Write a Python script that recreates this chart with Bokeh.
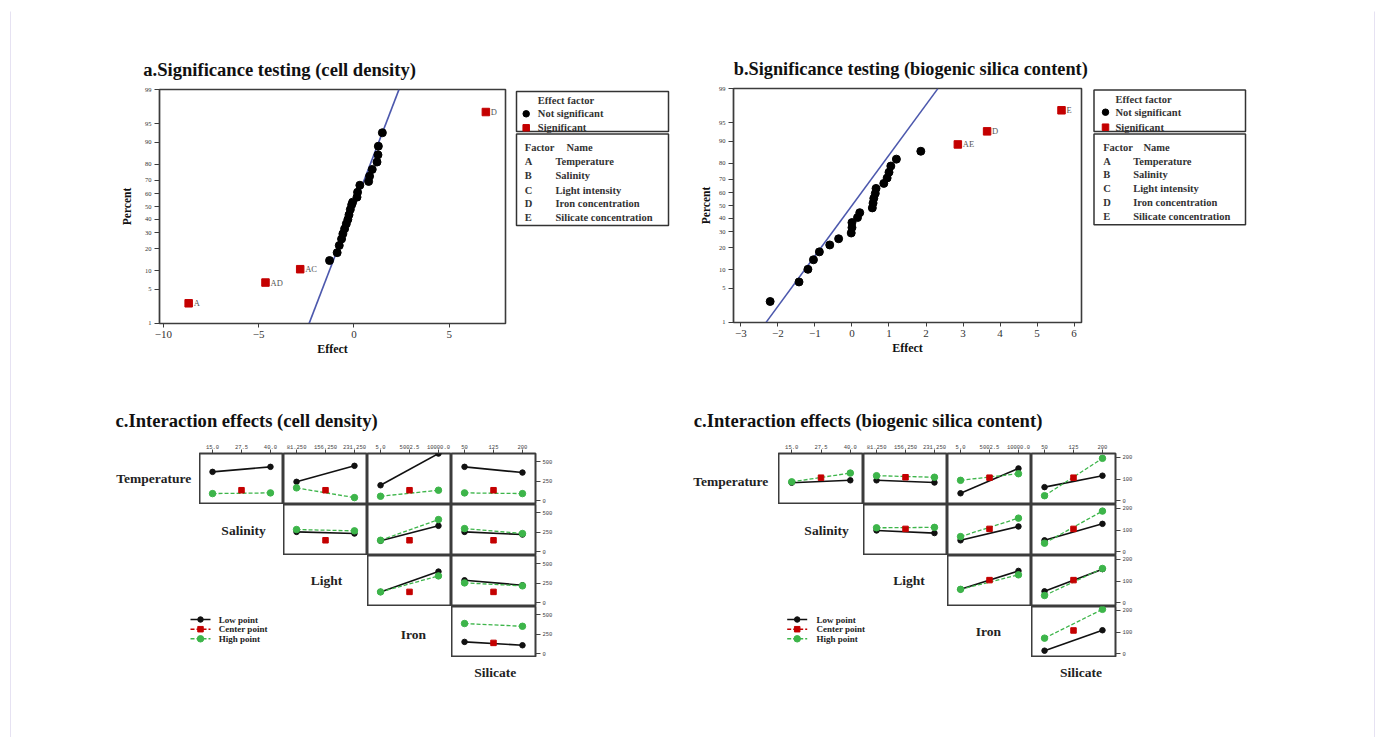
from statistics import NormalDist
from bokeh.plotting import figure
from bokeh.models import Range1d, FixedTicker, CustomJSTickFormatter, LinearAxis, Spacer
from bokeh.layouts import row, column
from bokeh.embed import file_html
from bokeh.resources import INLINE
from bokeh.core.properties import value

# ---------------- data ----------------
percent_ticks = [1, 5, 10, 20, 30, 40, 50, 60, 70, 80, 90, 95, 99]
a_effect_ticks = [-10, -5, 0, 5]
b_effect_ticks = [-3, -2, -1, 0, 1, 2, 3, 4, 5, 6]

a_sig_names = ["A", "AD", "AC", "D"]
a_sig_effect = [-8.67, -4.64, -2.82, 6.92]
a_sig_percent = [2.7, 6.5, 10.6, 97.0]
a_ns_effect = [-1.28, -0.88, -0.77, -0.65, -0.58, -0.49, -0.40, -0.32, -0.26, -0.19, -0.12,
               -0.07, 0.16, 0.19, 0.31, 0.77, 0.82, 0.96, 1.21, 1.26, 1.28, 1.49]
a_ns_percent = [14.1, 17.9, 21.9, 25.9, 29.3, 32.8, 36.5, 39.8, 43.4, 47.6, 51.3,
                53.4, 57.4, 61.2, 66.4, 69.1, 72.7, 77.0, 81.2, 84.8, 88.5, 92.9]
a_fit_effect = [-2.35, 2.36]
a_fit_percent = [1, 99]

b_sig_names = ["AE", "D", "E"]
b_sig_effect = [2.86, 3.65, 5.66]
b_sig_percent = [88.8, 93.0, 97.1]
b_ns_effect = [-2.21, -1.43, -1.19, -1.04, -0.88, -0.60, -0.36, -0.02, 0.00, 0.00, 0.15, 0.21,
               0.55, 0.57, 0.59, 0.63, 0.65, 0.86, 0.95, 1.00, 1.05, 1.20, 1.86]
b_ns_percent = [2.8, 6.4, 10.2, 14.0, 17.8, 21.6, 25.4, 29.2, 33.0, 36.7, 40.5, 44.3,
                48.1, 51.9, 55.7, 59.5, 63.3, 67.0, 70.8, 74.6, 78.4, 82.2, 86.0]
b_fit_effect = [-2.32, 2.32]
b_fit_percent = [1, 99]

effect_legend = ["Effect factor", "Not significant", "Significant"]
factor_header = ["Factor", "Name"]
factor_codes = ["A", "B", "C", "D", "E"]
factor_long_names = ["Temperature", "Salinity", "Light intensity", "Iron concentration",
                     "Silicate concentration"]

factor_names = ["Temperature", "Salinity", "Light", "Iron", "Silicate"]
salinity_levels = ["15.0", "27.5", "40.0"]
light_levels = ["81.250", "156.250", "231.250"]
iron_levels = ["5.0", "5002.5", "10000.0"]
silicate_levels = ["50", "125", "200"]
coded_levels = [-1, 0, 1]

pair_row = ["Temperature", "Temperature", "Temperature", "Temperature",
            "Salinity", "Salinity", "Salinity", "Light", "Light", "Iron"]
pair_col = ["Salinity", "Light", "Iron", "Silicate",
            "Light", "Iron", "Silicate", "Iron", "Silicate", "Silicate"]

# cell density (low / high level of the row factor, at low / high of the column factor)
cd_low_at_low = [371, 244, 200, 435, 256, 142, 256, 141, 289, 154]
cd_low_at_high = [435, 448, 604, 362, 235, 333, 222, 400, 226, 111]
cd_high_at_low = [94, 167, 60, 103, 286, 149, 298, 141, 256, 388]
cd_high_at_high = [103, 43, 137, 94, 269, 413, 235, 345, 218, 353]
cd_center = [137, 137, 137, 137, 149, 149, 149, 141, 141, 141]
cd_ticks = [0, 250, 500]

# biogenic silica content
bs_low_at_low = [83, 94, 35, 63, 98, 53, 53, 62, 53, 15]
bs_low_at_high = [94, 84, 148, 115, 86, 116, 128, 146, 154, 108]
bs_high_at_low = [87, 115, 94, 24, 110, 70, 40, 62, 34, 72]
bs_high_at_high = [127, 108, 124, 194, 112, 154, 186, 128, 157, 203]
bs_center = [106, 108, 106, 106, 105, 105, 105, 104, 104, 107]
bs_ticks = [0, 100, 200]

interaction_legend = ["Low point", "Center point", "High point"]

titles = ["a.Significance testing (cell density)",
          "b.Significance testing (biogenic silica content)",
          "c.Interaction effects (cell density)",
          "c.Interaction effects (biogenic silica content)"]

# ---------------- styling / layout ----------------
SERIF = "Liberation Serif"
MONO = "Liberation Mono"
OX, OY = 11, 11
FRAME_C = "#3c3c3c"
BLACK = "#111111"
RED = "#c40000"
GREEN = "#3db54a"
ND = NormalDist()


def probit(ps):
    return [ND.inv_cdf(p / 100.0) for p in ps]


def page_fig(x0, x1, y0, y1):
    p = figure(width=int(x1 - x0), height=int(y1 - y0), x_range=Range1d(x0, x1),
               y_range=Range1d(y1, y0), x_axis_location=None, y_axis_location=None,
               min_border=0, title=None, frame_align=False,
               output_backend="svg", toolbar_location=None)
    p.outline_line_color = None
    p.grid.visible = False
    return p


def txt(p, x, y, s, size, bold=False, align="left", baseline="middle", color="#111111"):
    p.text(x=[x], y=[y], text=[s], text_font=value(SERIF), text_font_size=size,
           text_font_style="bold" if bold else "normal", text_align=align,
           text_baseline=baseline, text_color=color)


def hrow(items, height, x_start=OX):
    children = []
    cur = x_start
    for x, m in items:
        if x > cur:
            children.append(Spacer(width=int(round(x - cur)), height=height))
        children.append(m)
        cur = x + m.width
    return row(*children)


def significance(x0, x1, y0, y1, fx0, fx1, fy0, fy1, xr, xticks, ns_x, ns_p, sg_x, sg_p,
                 sg_lab, fit_x, fit_p, ylab_standoff):
    zlo, zhi = ND.inv_cdf(0.01), ND.inv_cdf(0.99)
    p = figure(width=x1 - x0, height=y1 - y0, x_range=Range1d(*xr),
               y_range=Range1d(zlo - 0.003, zhi + 0.003), title=None, frame_align=False,
               min_border_left=fx0 - x0, min_border_right=x1 - fx1,
               min_border_top=fy0 - y0, min_border_bottom=y1 - fy1,
               output_backend="svg", toolbar_location=None)
    p.grid.visible = False
    p.outline_line_color = FRAME_C
    p.outline_line_width = 1.6
    p.line(fit_x, probit(fit_p), line_color="#4c58ad", line_width=1.6)
    p.scatter(ns_x, probit(ns_p), marker="circle", size=8, fill_color="black", line_color="black")
    p.scatter(sg_x, probit(sg_p), marker="square", size=7.5, fill_color=RED, line_color=RED)
    p.text(x=sg_x, y=probit(sg_p), text=sg_lab, x_offset=5, text_align="left",
           text_baseline="middle", text_font=value(SERIF), text_font_size="8.5px",
           text_color="#555555")
    xa, ya = p.xaxis[0], p.yaxis[0]
    xa.ticker = FixedTicker(ticks=xticks)
    xa.formatter = CustomJSTickFormatter(
        code="return tick < 0 ? '\u2212' + Math.abs(tick) : String(tick);")
    zs = probit(percent_ticks)
    ya.ticker = FixedTicker(ticks=zs)
    ya.formatter = CustomJSTickFormatter(
        args=dict(zs=zs, labels=[str(t) for t in percent_ticks]),
        code="let b = 0; for (let i = 0; i < zs.length; i++) {"
             " if (Math.abs(zs[i] - tick) < Math.abs(zs[b] - tick)) b = i; }"
             " return labels[b];")
    for ax in (xa, ya):
        ax.axis_line_color = FRAME_C
        ax.axis_line_width = 1.2
        ax.major_tick_line_color = FRAME_C
        ax.major_tick_in = 0
        ax.minor_tick_line_color = None
        ax.major_label_text_font = SERIF
        ax.major_label_text_color = "#333333"
        ax.axis_label_text_font = SERIF
        ax.axis_label_text_font_style = "bold"
        ax.axis_label_text_color = "#111111"
    xa.major_tick_out = 4
    xa.major_label_standoff = 3
    xa.major_label_text_font_size = "11px"
    xa.axis_label = "Effect"
    xa.axis_label_text_font_size = "12px"
    xa.axis_label_standoff = 1
    ya.major_tick_out = 5
    ya.major_label_standoff = 3
    ya.major_label_text_font_size = "6.5px"
    ya.axis_label = "Percent"
    ya.axis_label_text_font_size = "11.5px"
    ya.axis_label_standoff = ylab_standoff
    return p


def sig_legend(x0, x1, y0, y1, g):
    p = page_fig(x0, x1, y0, y1)
    p.quad(left=[g["bl"], g["bl"]], right=[g["br"], g["br"]], top=[g["b1"][0], g["b2"][0]],
           bottom=[g["b1"][1], g["b2"][1]], fill_color=None, line_color="#333333", line_width=1.5)
    txt(p, g["tx"], g["ys1"][0], effect_legend[0], "10.5px", bold=True, color="#333333")
    p.scatter([g["mx"]], [g["ys1"][1]], marker="circle", size=6.5, color="black")
    txt(p, g["tx"], g["ys1"][1], effect_legend[1], "10.5px", bold=True, color="#333333")
    p.scatter([g["mx"]], [g["ys1"][2]], marker="square", size=6.5, color=RED)
    txt(p, g["tx"], g["ys1"][2], effect_legend[2], "10.5px", bold=True, color="#333333")
    txt(p, g["cx"], g["hy"], factor_header[0], "10.5px", bold=True, color="#333333")
    txt(p, g["hx"], g["hy"], factor_header[1], "10.5px", bold=True, color="#333333")
    for code, name, y in zip(factor_codes, factor_long_names, g["ys2"]):
        txt(p, g["cx"], y, code, "10.5px", bold=True, color="#333333")
        txt(p, g["nx"], y, name, "10.5px", bold=True, color="#333333")
    return p


LEVELS = {"Salinity": salinity_levels, "Light": light_levels, "Iron": iron_levels,
          "Silicate": silicate_levels}
YROWS = [453, 504, 555, 606, 657]
TOPB, RIGHTB = 20, 26


def interaction_grid(X, label_pos, lo_lo, lo_hi, hi_lo, hi_hi, ctr, yr, yticks, leg):
    idx = {(r, c): i for i, (r, c) in enumerate(zip(pair_row, pair_col))}
    ends = [coded_levels[0], coded_levels[-1]]
    bands = []
    for r in range(4):
        top = TOPB if r == 0 else 0
        by0 = YROWS[r] - top
        bh = YROWS[r + 1] - by0
        items = []
        if r == 3:
            lg = page_fig(leg["x0"], X[3], YROWS[3], YROWS[4])
            styles = [(BLACK, "solid", "circle", 5.5), (RED, "dashed", "square", 5.5),
                      (GREEN, "dashed", "circle", 6.5)]
            for (col, dash, mk, sz), lab, y in zip(styles, interaction_legend, leg["ys"]):
                lg.line([leg["gx"], leg["gx"] + 20], [y, y], line_color=col, line_width=1.5,
                        line_dash=dash if dash == "solid" else "4 2")
                lg.scatter([leg["gx"] + 10], [y], marker=mk, size=sz, color=col)
                txt(lg, leg["tx"], y, lab, "9px", bold=True, color="#222222")
            items.append((leg["x0"], lg))
        lab = page_fig(X[r], X[r + 1], by0, YROWS[r + 1])
        txt(lab, label_pos[r][0], label_pos[r][1], factor_names[r], "13.5px", bold=True,
            align="center", color="#222222")
        items.append((X[r], lab))
        for k in range(r + 1, 5):
            i = idx[(factor_names[r], factor_names[k])]
            w = X[k + 1] - X[k]
            right = RIGHTB if k == 4 else 0
            c = figure(width=w + right, height=bh, x_range=Range1d(-1.45, 1.45),
                       y_range=Range1d(*yr), x_axis_location=None, y_axis_location=None,
                       min_border=0, min_border_top=top, min_border_right=right, title=None,
                       frame_align=False, output_backend="svg", toolbar_location=None)
            c.grid.visible = False
            c.outline_line_color = FRAME_C
            c.outline_line_width = 2
            c.line(ends, [lo_lo[i], lo_hi[i]], line_color=BLACK, line_width=1.6)
            c.scatter(ends, [lo_lo[i], lo_hi[i]], marker="circle", size=5.5, color=BLACK)
            c.line(ends, [hi_lo[i], hi_hi[i]], line_color=GREEN, line_width=1.3, line_dash="4 2")
            c.scatter(ends, [hi_lo[i], hi_hi[i]], marker="circle", size=6.5, color=GREEN)
            c.scatter([coded_levels[1]], [ctr[i]], marker="square", size=5.5, color=RED)
            if r == 0:
                ax = LinearAxis(ticker=FixedTicker(ticks=coded_levels),
                                formatter=CustomJSTickFormatter(
                                    args=dict(labels=LEVELS[factor_names[k]]),
                                    code="return labels[Math.round(tick) + 1];"))
                ax.axis_line_color = None
                ax.major_tick_out = 4
                ax.major_tick_in = 0
                ax.minor_tick_line_color = None
                ax.major_tick_line_color = "#444444"
                ax.major_label_standoff = 1
                ax.major_label_text_font = MONO
                ax.major_label_text_font_size = "5.5px"
                ax.major_label_text_color = "#444444"
                c.add_layout(ax, "above")
            if k == 4:
                ay = LinearAxis(ticker=FixedTicker(ticks=yticks))
                ay.axis_line_color = None
                ay.major_tick_out = 5
                ay.major_tick_in = 0
                ay.minor_tick_line_color = None
                ay.major_tick_line_color = "#444444"
                ay.major_label_standoff = 2
                ay.major_label_text_font = MONO
                ay.major_label_text_font_size = "5.5px"
                ay.major_label_text_color = "#444444"
                c.add_layout(ay, "right")
            items.append((X[k], c))
        bands.append((items, bh))
    sl = page_fig(X[4], X[5], YROWS[4], YROWS[4] + 33)
    txt(sl, label_pos[4][0], label_pos[4][1], factor_names[4], "13.5px", bold=True,
        align="center", color="#222222")
    bands.append(([(X[4], sl)], 33))
    return bands


# ---------------- build ----------------
band1a = page_fig(OX, 1374, OY, 82)
txt(band1a, 142.7, 69, titles[0], "18.6px", bold=True)
txt(band1a, 733.3, 68.5, titles[1], "18.3px", bold=True)

fig_a = significance(100, 510, 82, 375, 159, 505, 89, 323, (-10.2, 7.95), a_effect_ticks,
                     a_ns_effect, a_ns_percent, a_sig_effect, a_sig_percent, a_sig_names,
                     a_fit_effect, a_fit_percent, 9)
fig_b = significance(690, 1092, 82, 375, 733, 1081, 88, 322, (-3.2, 6.2), b_effect_ticks,
                     b_ns_effect, b_ns_percent, b_sig_effect, b_sig_percent, b_sig_names,
                     b_fit_effect, b_fit_percent, 4)
leg_a = sig_legend(510, 690, 82, 375, dict(bl=516, br=668, b1=(91, 131), b2=(133.5, 225),
                                           tx=537.3, mx=525.7, ys1=(100, 113.3, 127.3),
                                           cx=524.3, hx=566, hy=146.7, nx=555,
                                           ys2=(161, 175, 189.5, 203.3, 216.7)))
leg_b = sig_legend(1092, 1260, 82, 375, dict(bl=1093.5, br=1245, b1=(89.5, 131), b2=(133.5, 224.3),
                                             tx=1115, mx=1105, ys1=(99, 111.7, 126.7),
                                             cx=1102.7, hx=1143, hy=146.7, nx=1132.7,
                                             ys2=(161, 174.3, 188.3, 202.3, 216)))
band1b = hrow([(100, fig_a), (510, leg_a), (690, fig_b), (1092, leg_b)], 293)

band2 = page_fig(OX, 1374, 375, 433)
txt(band2, 115, 419.5, titles[2], "18.6px", bold=True)
txt(band2, 693.3, 419.5, titles[3], "18.6px", bold=True)

left_bands = interaction_grid([100, 199, 283, 367, 451, 535],
                              [(153.3, 477.7), (243, 530), (326, 580), (413, 634), (494.8, 671.7)],
                              cd_low_at_low, cd_low_at_high, cd_high_at_low, cd_high_at_high,
                              cd_center, (-45, 605), cd_ticks,
                              dict(x0=185, gx=190, tx=218.3, ys=(619, 628.7, 638.3)))
right_bands = interaction_grid([680, 778, 863, 947, 1031, 1115],
                               [(730.3, 481), (826, 530), (908.5, 580), (988, 630.7), (1080.5, 671.7)],
                               bs_low_at_low, bs_low_at_high, bs_high_at_low, bs_high_at_high,
                               bs_center, (-16, 216), bs_ticks,
                               dict(x0=766, gx=786.7, tx=816, ys=(619, 628.7, 638.3)))
grid_rows = []
for (li, h), (ri, _) in zip(left_bands, right_bands):
    grid_rows.append(hrow(li + ri, h))

content = column(band1a, band1b, band2, *grid_rows)

H = 726
BORDER = "#cdc6e6"


def line_fig(w, h):
    p = figure(width=w, height=h, x_axis_location=None, y_axis_location=None, min_border=0,
               title=None, frame_align=False, output_backend="svg", toolbar_location=None,
               background_fill_color=BORDER, border_fill_color=BORDER)
    p.outline_line_color = None
    return p


root = column(
    Spacer(width=10, height=9),
    row(Spacer(width=10, height=2), line_fig(1365, 2)),
    row(Spacer(width=10, height=H), line_fig(1, H), column(content, width=1363),
        line_fig(1, H)),
)

open("out.html", "w", encoding="utf-8").write(file_html(root, INLINE, title="chart"))
